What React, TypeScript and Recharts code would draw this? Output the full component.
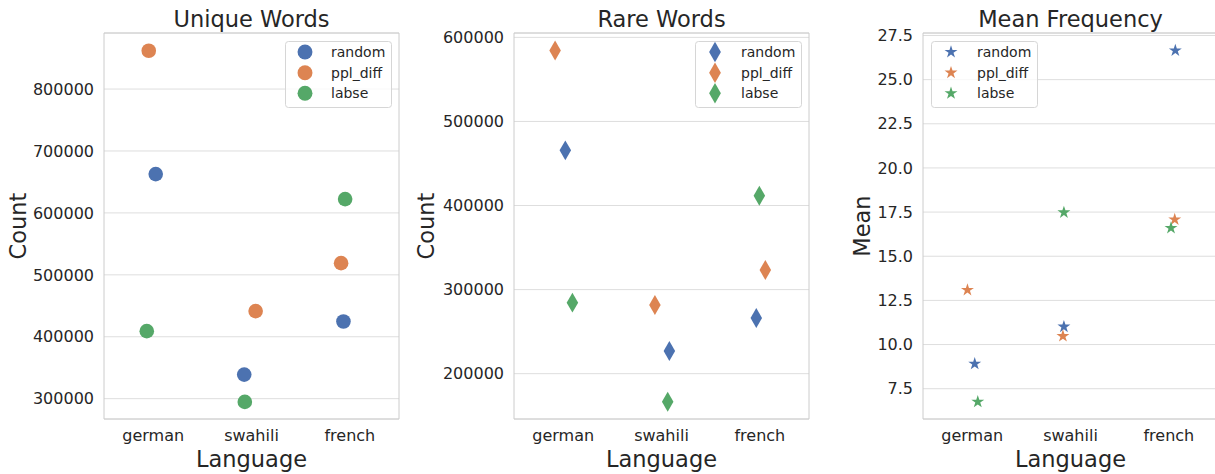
import React from 'react';
import {
  ScatterChart,
  Scatter,
  XAxis,
  YAxis,
  ZAxis,
  CartesianGrid,
  ReferenceArea,
  Legend,
  Symbols,
} from 'recharts';

// ---------- data ----------
const languages = ['german', 'swahili', 'french'];
const methods = ['random', 'ppl_diff', 'labse'];
const colors = ['#4c72b0', '#dd8452', '#55a868'];

// Unique Words (per method, per language)
const uniqueRandom = [662700, 338900, 424600];
const uniquePplDiff = [861900, 441400, 518900];
const uniqueLabse = [409000, 294800, 622300];
const uniqueJitterRandom = [0.026, -0.074, -0.065];
const uniqueJitterPplDiff = [-0.045, 0.042, -0.089];
const uniqueJitterLabse = [-0.065, -0.068, -0.048];
const uniqueTicks = [300000, 400000, 500000, 600000, 700000, 800000];

// Rare Words
const rareRandom = [465600, 227000, 266300];
const rarePplDiff = [584500, 281700, 323300];
const rareLabse = [284500, 166700, 411700];
const rareJitterRandom = [0.022, 0.08, -0.036];
const rareJitterPplDiff = [-0.082, -0.067, 0.056];
const rareJitterLabse = [0.094, 0.063, -0.005];
const rareTicks = [200000, 300000, 400000, 500000, 600000];

// Mean Frequency
const meanRandom = [8.91, 11.01, 26.65];
const meanPplDiff = [13.09, 10.48, 17.08];
const meanLabse = [6.76, 17.48, 16.6];
const meanJitterRandom = [0.026, -0.067, 0.066];
const meanJitterPplDiff = [-0.048, -0.077, 0.06];
const meanJitterLabse = [0.057, -0.067, 0.022];
const meanTicks = [7.5, 10, 12.5, 15, 17.5, 20, 22.5, 25, 27.5];

const build = (values: number[], jitter: number[]) =>
  values.map((v, i) => ({ x: i + jitter[i], y: v, z: 1, lang: languages[i] }));

const TEXT = '#262626';
const FONT = '"DejaVu Sans", Verdana, sans-serif';

type PanelProps = {
  title: string;
  yLabel: string;
  plotLeft: number;
  plotWidth: number;
  yDomain: [number, number];
  yTicks: number[];
  yFormat: (v: number) => string;
  yLabelOffset: number;
  series: { values: number[]; jitter: number[] }[];
  shape: 'circle' | 'diamond' | 'star';
  markerSize: number;
  legendMarkerSize: number;
  legendLeft: number;
};

const Y_AXIS_W = 100;
const TOP = 33;
const X_AXIS_H = 55;
const H = 474;
const RIGHT_PAD = 5;

function LegendBox({ shape, size }: { shape: 'circle' | 'diamond' | 'star'; size: number }) {
  const rows = [11, 31.7, 52.3];
  return (
    <svg width={107} height={67} style={{ display: 'block', overflow: 'visible' }}>
      <rect
        x={0.5}
        y={0.5}
        width={106}
        height={66}
        rx={3}
        ry={3}
        fill="rgba(255,255,255,0.8)"
        stroke="#d6d6d6"
        strokeWidth={1}
      />
      {methods.map((m, i) => (
        <g key={m}>
          <Symbols cx={20} cy={rows[i]} type={shape} size={size} fill={colors[i]} />
          <text
            x={46}
            y={rows[i]}
            dominantBaseline="central"
            fontSize={14}
            fill={TEXT}
            fontFamily={FONT}
          >
            {m}
          </text>
        </g>
      ))}
    </svg>
  );
}

function Panel(p: PanelProps) {
  const chartLeft = p.plotLeft - Y_AXIS_W;
  const chartWidth = p.plotWidth + Y_AXIS_W + RIGHT_PAD;
  return (
    <div style={{ position: 'absolute', left: chartLeft, top: 0, width: chartWidth, height: H }}>
      <div
        style={{
          position: 'absolute',
          left: Y_AXIS_W,
          width: p.plotWidth,
          top: 8,
          textAlign: 'center',
          fontSize: 22.5,
          lineHeight: '22.5px',
          color: TEXT,
          fontFamily: FONT,
          whiteSpace: 'nowrap',
        }}
      >
        {p.title}
      </div>
      <ScatterChart
        width={chartWidth}
        height={H}
        margin={{ top: TOP, right: RIGHT_PAD, bottom: 0, left: 0 }}
      >
        <CartesianGrid vertical={false} stroke="#dedede" strokeWidth={1} />
        <ReferenceArea
          x1={-0.5}
          x2={2.5}
          y1={p.yDomain[0]}
          y2={p.yDomain[1]}
          fill="none"
          fillOpacity={0}
          stroke="#cccccc"
          strokeWidth={1}
          ifOverflow="visible"
        />
        <XAxis
          type="number"
          dataKey="x"
          domain={[-0.5, 2.5]}
          ticks={[0, 1, 2]}
          allowDataOverflow
          tickFormatter={(v: number) => languages[Math.round(v)]}
          axisLine={false}
          tickLine={false}
          tickSize={0}
          tickMargin={11}
          height={X_AXIS_H}
          tick={{ fill: TEXT, fontSize: 16, fontFamily: FONT }}
          label={{
            content: (props: any) => {
              const vb = props.viewBox || {};
              return (
                <text
                  x={vb.x + vb.width / 2}
                  y={vb.y + 47.5}
                  textAnchor="middle"
                  fontSize={22.5}
                  fill={TEXT}
                  fontFamily={FONT}
                >
                  Language
                </text>
              );
            },
          }}
        />
        <YAxis
          type="number"
          dataKey="y"
          domain={p.yDomain}
          ticks={p.yTicks}
          allowDataOverflow
          tickFormatter={p.yFormat}
          axisLine={false}
          tickLine={false}
          tickSize={0}
          tickMargin={10}
          width={Y_AXIS_W}
          tick={{ fill: TEXT, fontSize: 16, fontFamily: FONT }}
          label={{
            content: (props: any) => {
              const vb = props.viewBox || {};
              const x = vb.x + vb.width + p.yLabelOffset;
              const cy = vb.y + vb.height / 2;
              return (
                <text
                  x={x}
                  y={cy}
                  transform={`rotate(-90, ${x}, ${cy})`}
                  textAnchor="middle"
                  fontSize={22.5}
                  fill={TEXT}
                  fontFamily={FONT}
                >
                  {p.yLabel}
                </text>
              );
            },
          }}
        />
        <ZAxis type="number" dataKey="z" domain={[0, 1]} range={[p.markerSize, p.markerSize]} />
        <Legend
          layout="vertical"
          align="center"
          verticalAlign="middle"
          wrapperStyle={{ left: p.legendLeft - chartLeft, top: 40.5, width: 'auto', height: 'auto' }}
          content={() => <LegendBox shape={p.shape} size={p.legendMarkerSize} />}
        />
        {p.series.map((s, i) => (
          <Scatter
            key={methods[i]}
            name={methods[i]}
            data={build(s.values, s.jitter)}
            fill={colors[i]}
            shape={p.shape}
            legendType={p.shape}
            isAnimationActive={false}
          />
        ))}
      </ScatterChart>
    </div>
  );
}

export default function App() {
  const fmtInt = (v: number) => String(Math.round(v));
  const fmt1 = (v: number) => v.toFixed(1);
  return (
    <div
      style={{
        position: 'fixed',
        left: 0,
        top: 0,
        width: 1215,
        height: 474,
        overflow: 'hidden',
        background: '#ffffff',
        fontFamily: FONT,
      }}
    >
      <Panel
        title="Unique Words"
        yLabel="Count"
        plotLeft={104}
        plotWidth={295}
        yDomain={[267200, 890500]}
        yTicks={uniqueTicks}
        yFormat={fmtInt}
        yLabelOffset={-78.5}
        series={[
          { values: uniqueRandom, jitter: uniqueJitterRandom },
          { values: uniquePplDiff, jitter: uniqueJitterPplDiff },
          { values: uniqueLabse, jitter: uniqueJitterLabse },
        ]}
        shape="circle"
        markerSize={168}
        legendMarkerSize={175}
        legendLeft={285}
      />
      <Panel
        title="Rare Words"
        yLabel="Count"
        plotLeft={514}
        plotWidth={295}
        yDomain={[146100, 605200]}
        yTicks={rareTicks}
        yFormat={fmtInt}
        yLabelOffset={-79.7}
        series={[
          { values: rareRandom, jitter: rareJitterRandom },
          { values: rarePplDiff, jitter: rareJitterPplDiff },
          { values: rareLabse, jitter: rareJitterLabse },
        ]}
        shape="diamond"
        markerSize={115}
        legendMarkerSize={120}
        legendLeft={695}
      />
      <Panel
        title="Mean Frequency"
        yLabel="Mean"
        plotLeft={923}
        plotWidth={295}
        yDomain={[5.785, 27.64]}
        yTicks={meanTicks}
        yFormat={fmt1}
        yLabelOffset={-53.3}
        series={[
          { values: meanRandom, jitter: meanJitterRandom },
          { values: meanPplDiff, jitter: meanJitterPplDiff },
          { values: meanLabse, jitter: meanJitterLabse },
        ]}
        shape="star"
        markerSize={52}
        legendMarkerSize={52}
        legendLeft={931}
      />
    </div>
  );
}
